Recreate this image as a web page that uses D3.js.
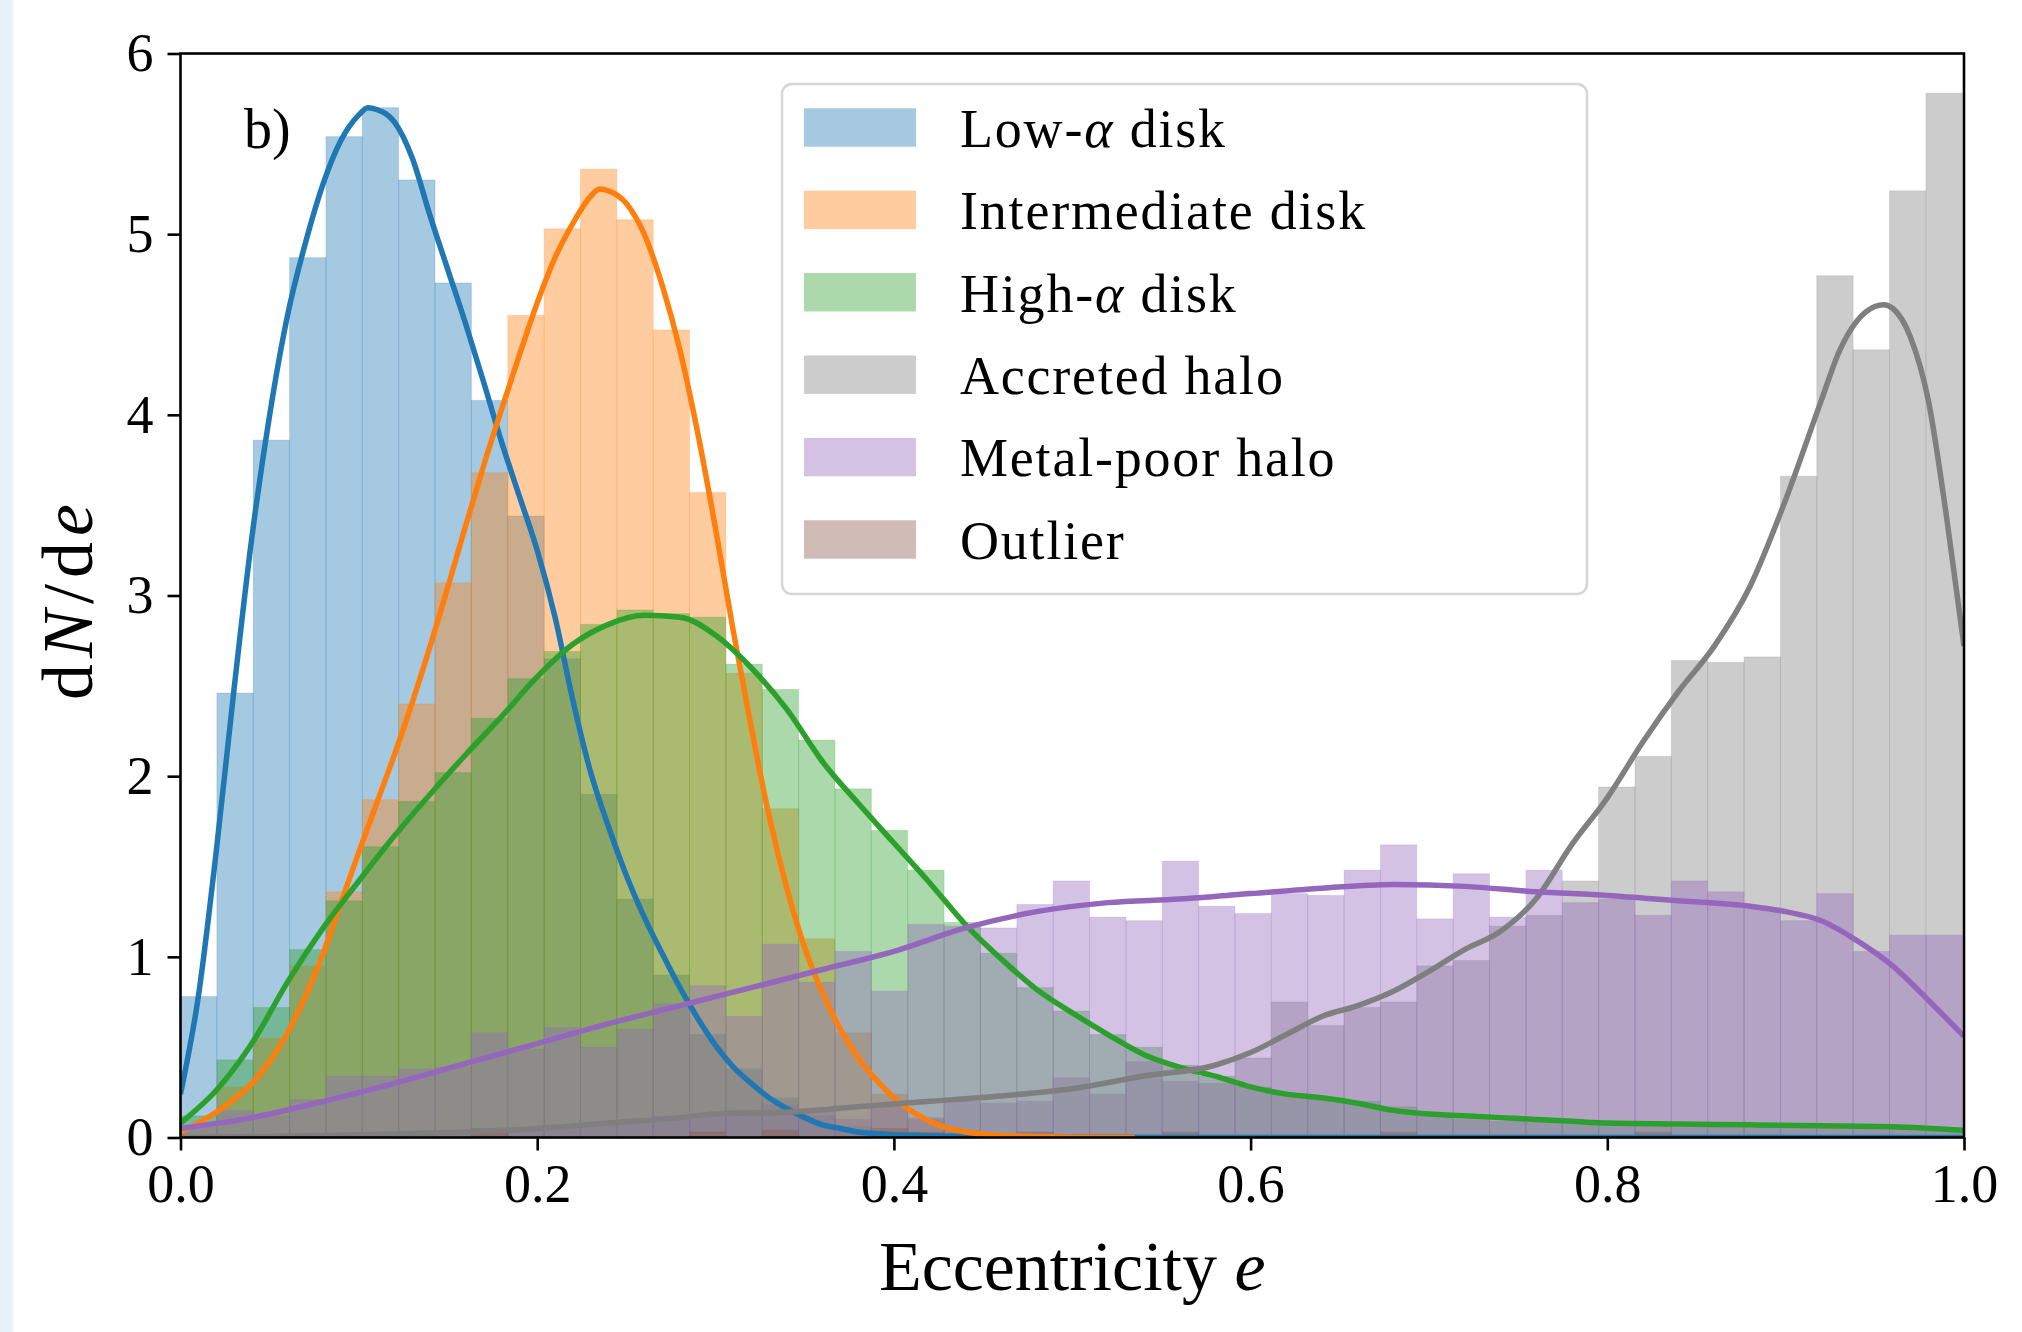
<!DOCTYPE html>
<html>
<head>
<meta charset="utf-8">
<script src="https://cdn.jsdelivr.net/npm/d3@7/dist/d3.min.js"></script>
<style>
  html, body { margin: 0; padding: 0; background: #ffffff; }
  svg { display: block; }
</style>
</head>
<body>
<svg id="chart" width="2022" height="1332"></svg>
<script>
// ---------------- DATA ----------------
const seriesNames = ["Low-α disk", "Intermediate disk", "High-α disk", "Accreted halo", "Metal-poor halo", "Outlier"];
const seriesColors = ["#1f77b4", "#ff7f0e", "#2ca02c", "#7f7f7f", "#9467bd", "#8c564b"];

// 49 equal bins spanning the eccentricity range
const binRange = [0, 0.999];
const binCount = 49;

const histLowAlpha = [0.78, 2.46, 3.86, 4.87, 5.54, 5.70, 5.30, 4.73, 4.08, 3.44, 2.65, 1.90, 1.32, 0.90, 0.57, 0.38,
  0.22, 0.12, 0.06, 0.03, 0.015, 0.01, 0.005, 0.005, 0, 0, 0, 0, 0, 0, 0, 0, 0, 0, 0, 0, 0, 0, 0, 0, 0, 0, 0, 0, 0, 0, 0, 0, 0];
const histIntermediate = [0.06, 0.28, 0.55, 0.95, 1.36, 1.87, 2.40, 3.07, 3.68, 4.55, 5.03, 5.36, 5.08, 4.47, 3.57, 2.57,
  1.82, 1.10, 0.58, 0.24, 0.10, 0.04, 0.02, 0.01, 0.01, 0.005, 0, 0, 0, 0, 0, 0, 0, 0, 0, 0, 0, 0, 0, 0, 0, 0, 0, 0, 0, 0, 0, 0, 0];
const histHighAlpha = [0.12, 0.43, 0.72, 1.04, 1.31, 1.61, 1.86, 2.02, 2.32, 2.54, 2.69, 2.84, 2.92, 2.90, 2.88, 2.62,
  2.48, 2.20, 1.93, 1.70, 1.48, 1.19, 1.02, 0.83, 0.70, 0.57, 0.50, 0.40, 0.34, 0.28, 0.24, 0.22, 0.20, 0.17, 0.12, 0.10,
  0.09, 0.09, 0.08, 0.08, 0.08, 0.07, 0.07, 0.06, 0.06, 0.06, 0.05, 0.05, 0.04];
const histAccreted = [0, 0, 0, 0, 0.01, 0.01, 0.02, 0.03, 0.04, 0.05, 0.06, 0.08, 0.10, 0.12, 0.13, 0.15, 0.18, 0.14,
  0.10, 0.17, 0.11, 0.20, 0.19, 0.20, 0.33, 0.24, 0.42, 0.31, 0.30, 0.44, 0.75, 0.62, 0.72, 0.75, 0.95, 0.98, 1.17, 1.23,
  1.42, 1.94, 2.11, 2.64, 2.63, 2.66, 3.66, 4.77, 4.36, 5.24, 5.78];
const histMetalPoor = [0.06, 0.15, 0.12, 0.21, 0.34, 0.34, 0.38, 0.39, 0.58, 0.49, 0.61, 0.50, 0.60, 0.74, 0.84, 0.67,
  1.07, 0.86, 1.03, 0.81, 1.18, 1.17, 1.16, 1.29, 1.42, 1.22, 1.20, 1.53, 1.28, 1.24, 1.35, 1.34, 1.48, 1.62, 1.21, 1.46,
  1.22, 1.48, 1.30, 1.32, 1.23, 1.42, 1.36, 1.27, 1.20, 1.35, 1.03, 1.12, 1.12];
const histOutlier = [0, 0, 0, 0, 0, 0, 0, 0, 0.05, 0, 0, 0, 0, 0, 0.03, 0, 0.04, 0, 0, 0.05, 0.03, 0, 0, 0.03, 0,
  0, 0, 0.03, 0, 0, 0, 0, 0, 0.03, 0, 0, 0, 0, 0, 0, 0.03, 0, 0, 0, 0, 0, 0, 0, 0];

// KDE curves: [eccentricity, density]
const kdeLowAlpha = [[0,0.24],[0.01,0.78],[0.02,1.58],[0.03,2.48],[0.04,3.32],[0.05,4.0],[0.06,4.55],[0.07,4.95],
  [0.08,5.28],[0.09,5.52],[0.10,5.66],[0.105,5.70],[0.11,5.69],[0.12,5.62],[0.13,5.42],[0.14,5.10],[0.15,4.80],[0.16,4.50],
  [0.17,4.18],[0.18,3.85],[0.19,3.55],[0.20,3.25],[0.21,2.88],[0.22,2.42],[0.23,2.02],[0.24,1.72],[0.25,1.45],
  [0.26,1.22],[0.27,1.02],[0.28,0.83],[0.29,0.66],[0.30,0.51],[0.31,0.39],[0.32,0.30],[0.33,0.22],[0.34,0.16],
  [0.35,0.11],[0.36,0.07],[0.37,0.05],[0.38,0.03],[0.40,0.015],[0.45,0.005],[0.50,0.002],[0.60,0],[1.0,0]];
const kdeIntermediate = [[0,0.03],[0.02,0.14],[0.04,0.30],[0.05,0.42],[0.06,0.58],[0.07,0.78],[0.08,1.02],[0.09,1.30],
  [0.10,1.58],[0.11,1.85],[0.12,2.12],[0.13,2.41],[0.14,2.72],[0.15,3.05],[0.16,3.39],[0.17,3.72],[0.18,4.03],[0.19,4.33],
  [0.20,4.62],[0.21,4.87],[0.22,5.06],[0.23,5.21],[0.235,5.25],[0.24,5.24],[0.25,5.17],[0.26,5.00],[0.27,4.72],
  [0.28,4.36],[0.29,3.90],[0.30,3.37],[0.31,2.80],[0.32,2.27],[0.33,1.78],[0.34,1.38],[0.35,1.05],[0.36,0.80],
  [0.37,0.60],[0.38,0.44],[0.39,0.32],[0.40,0.22],[0.42,0.09],[0.44,0.03],[0.46,0.012],[0.48,0.005],[0.50,0.002],[0.535,0]];
const kdeHighAlpha = [[0,0.08],[0.02,0.26],[0.04,0.52],[0.06,0.86],[0.08,1.16],[0.10,1.42],[0.12,1.67],[0.14,1.90],
  [0.16,2.12],[0.18,2.33],[0.20,2.55],[0.22,2.73],[0.24,2.84],[0.26,2.89],[0.28,2.88],[0.30,2.78],[0.32,2.60],
  [0.34,2.37],[0.36,2.08],[0.38,1.85],[0.40,1.63],[0.42,1.41],[0.44,1.18],[0.46,0.99],[0.48,0.82],[0.50,0.69],
  [0.52,0.57],[0.54,0.46],[0.56,0.39],[0.58,0.34],[0.60,0.28],[0.62,0.24],[0.64,0.22],[0.66,0.19],[0.68,0.15],
  [0.70,0.13],[0.72,0.12],[0.74,0.11],[0.76,0.10],[0.78,0.09],[0.80,0.08],[0.84,0.075],[0.88,0.07],[0.92,0.065],
  [0.96,0.06],[1.0,0.04]];
const kdeAccreted = [[0,0],[0.04,0.005],[0.08,0.01],[0.12,0.02],[0.16,0.03],[0.20,0.05],[0.24,0.08],[0.28,0.11],
  [0.30,0.13],[0.34,0.14],[0.38,0.17],[0.42,0.20],[0.46,0.23],[0.50,0.27],[0.54,0.34],[0.58,0.40],[0.60,0.47],
  [0.62,0.57],[0.64,0.67],[0.66,0.73],[0.68,0.81],[0.70,0.92],[0.72,1.04],[0.74,1.14],[0.76,1.32],[0.78,1.62],
  [0.80,1.88],[0.82,2.19],[0.84,2.47],[0.86,2.72],[0.88,3.05],[0.90,3.53],[0.92,4.08],[0.93,4.35],[0.94,4.52],
  [0.95,4.60],[0.955,4.61],[0.96,4.59],[0.97,4.43],[0.98,4.08],[0.99,3.45],[1.0,2.72]];
const kdeMetalPoor = [[0,0.05],[0.04,0.11],[0.08,0.20],[0.12,0.30],[0.16,0.41],[0.20,0.52],[0.24,0.63],[0.28,0.73],
  [0.32,0.83],[0.36,0.93],[0.40,1.03],[0.44,1.16],[0.48,1.25],[0.52,1.30],[0.56,1.32],[0.60,1.35],[0.64,1.38],
  [0.68,1.40],[0.72,1.39],[0.76,1.36],[0.80,1.34],[0.84,1.31],[0.88,1.28],[0.90,1.25],[0.92,1.20],[0.94,1.09],
  [0.96,0.95],[0.98,0.76],[1.0,0.56]];

const xTicks = [0, 0.2, 0.4, 0.6, 0.8, 1.0];
const yTicks = [0, 1, 2, 3, 4, 5, 6];
const xLabelText = "Eccentricity ";
const panelLabel = "b)";

// ---------------- LAYOUT ----------------
const W = 2022, H = 1332;
const plotLeft = 180.5, plotRight = 1964, plotTop = 53.5, plotBottom = 1137.5;
const FONT = "'Liberation Serif', 'DejaVu Serif', serif";

const x = d3.scaleLinear().domain([0, 1]).range([plotLeft, plotRight]);
const y = d3.scaleLinear().domain([0, 6]).range([plotBottom, plotTop]);
const binEdge = i => binRange[0] + (binRange[1] - binRange[0]) * i / binCount;

const svg = d3.select("#chart");
svg.append("rect").attr("width", W).attr("height", H).attr("fill", "#ffffff");
svg.append("rect").attr("x", 0).attr("y", 0).attr("width", 13).attr("height", H).attr("fill", "#e8f1fa");

svg.append("defs").append("clipPath").attr("id", "plotclip")
  .append("rect").attr("x", plotLeft).attr("y", plotTop)
  .attr("width", plotRight - plotLeft).attr("height", plotBottom - plotTop);

const series = [
  { name: seriesNames[0], color: seriesColors[0], hist: histLowAlpha, kde: kdeLowAlpha },
  { name: seriesNames[1], color: seriesColors[1], hist: histIntermediate, kde: kdeIntermediate },
  { name: seriesNames[2], color: seriesColors[2], hist: histHighAlpha, kde: kdeHighAlpha },
  { name: seriesNames[3], color: seriesColors[3], hist: histAccreted, kde: kdeAccreted },
  { name: seriesNames[4], color: seriesColors[4], hist: histMetalPoor, kde: kdeMetalPoor },
  { name: seriesNames[5], color: seriesColors[5], hist: histOutlier, kde: null }
];

const plot = svg.append("g").attr("clip-path", "url(#plotclip)");

// histograms
series.forEach(s => {
  plot.append("g").selectAll("rect")
    .data(s.hist.map((v, i) => ({ v, i })).filter(d => d.v > 0))
    .join("rect")
    .attr("x", d => x(binEdge(d.i)))
    .attr("width", d => x(binEdge(d.i + 1)) - x(binEdge(d.i)))
    .attr("y", d => y(d.v))
    .attr("height", d => y(0) - y(d.v))
    .attr("fill", s.color).attr("fill-opacity", 0.4)
    .attr("stroke", s.color).attr("stroke-opacity", 0.18).attr("stroke-width", 1);
});

// KDE lines
const line = d3.line().x(d => x(d[0])).y(d => y(d[1])).curve(d3.curveMonotoneX);
series.filter(s => s.kde).forEach(s => {
  plot.append("path").attr("d", line(s.kde))
    .attr("fill", "none").attr("stroke", s.color)
    .attr("stroke-width", 5.5).attr("stroke-linejoin", "round").attr("stroke-linecap", "butt");
});

// axes
const gx = svg.append("g").attr("transform", `translate(0,${plotBottom})`)
  .call(d3.axisBottom(x).tickValues(xTicks).tickFormat(d3.format(".1f")).tickSize(13).tickPadding(13).tickSizeOuter(0));
gx.select(".domain").remove();
gx.selectAll(".tick line").attr("stroke", "#000").attr("stroke-width", 2.6);
gx.selectAll(".tick text").attr("font-family", FONT).attr("font-size", 54).attr("fill", "#000");

const gy = svg.append("g").attr("transform", `translate(${plotLeft},0)`)
  .call(d3.axisLeft(y).tickValues(yTicks).tickFormat(d3.format("d")).tickSize(13).tickPadding(14).tickSizeOuter(0));
gy.select(".domain").remove();
gy.selectAll(".tick line").attr("stroke", "#000").attr("stroke-width", 2.6);
gy.selectAll(".tick text").attr("font-family", FONT).attr("font-size", 54).attr("fill", "#000");

// frame
svg.append("rect").attr("x", plotLeft).attr("y", plotTop)
  .attr("width", plotRight - plotLeft).attr("height", plotBottom - plotTop)
  .attr("fill", "none").attr("stroke", "#000").attr("stroke-width", 2.6);

// axis labels
const xl = svg.append("text").attr("x", (plotLeft + plotRight) / 2).attr("y", 1290)
  .attr("text-anchor", "middle").attr("font-family", FONT).attr("font-size", 70).attr("fill", "#000");
xl.append("tspan").text(xLabelText);
xl.append("tspan").attr("font-style", "italic").text("e");

const yl = svg.append("text").attr("transform", "translate(92,599) rotate(-90)")
  .attr("text-anchor", "middle").attr("font-family", FONT).attr("font-size", 72).attr("fill", "#000")
  .attr("letter-spacing", 6);
yl.append("tspan").text("d");
yl.append("tspan").attr("font-style", "italic").text("N");
yl.append("tspan").text("/d");
yl.append("tspan").attr("font-style", "italic").text("e");

// panel label
svg.append("text").attr("x", 244).attr("y", 148).attr("font-family", FONT).attr("font-size", 56)
  .attr("fill", "#000").text(panelLabel);

// legend
const lg = svg.append("g");
lg.append("rect").attr("x", 782).attr("y", 84).attr("width", 805).attr("height", 510).attr("rx", 10)
  .attr("fill", "#fff").attr("fill-opacity", 0.8).attr("stroke", "#d6d6d6").attr("stroke-width", 2.5);
series.forEach((s, i) => {
  const yy = 108.3 + i * 82.4;
  lg.append("rect").attr("x", 804).attr("y", yy).attr("width", 112).attr("height", 38.4)
    .attr("fill", s.color).attr("fill-opacity", 0.4);
  const t = lg.append("text").attr("x", 960).attr("y", yy + 38.4)
    .attr("font-family", FONT).attr("font-size", 54).attr("fill", "#000").attr("letter-spacing", 1.8);
  const parts = s.name.split("α");
  parts.forEach((p, k) => {
    if (k > 0) t.append("tspan").attr("font-style", "italic").text("α");
    if (p) t.append("tspan").attr("font-style", "normal").text(p);
  });
});
</script>
</body>
</html>
